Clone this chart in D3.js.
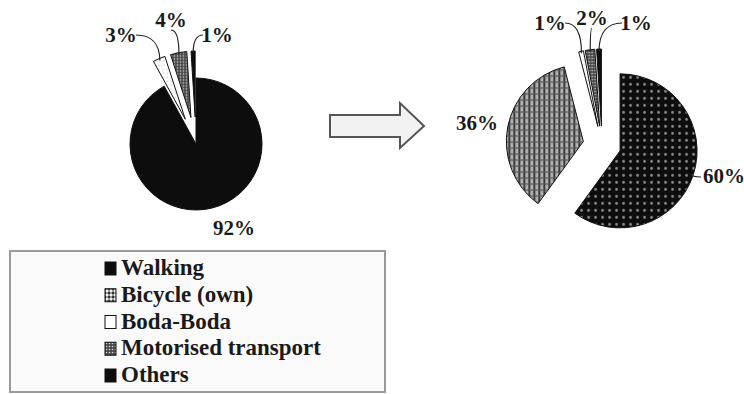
<!DOCTYPE html>
<html>
<head>
<meta charset="utf-8">
<script src="https://cdn.jsdelivr.net/npm/d3@7"></script>
<style>
  html, body { margin: 0; padding: 0; background: #fff; }
  svg { display: block; }
</style>
</head>
<body>
<svg id="chart" width="744" height="394" font-family="'Liberation Serif', 'DejaVu Serif', Times, serif" font-weight="bold"></svg>
<script>
// Travel mode shares (%) before and after
const categories = ["Walking", "Bicycle (own)", "Boda-Boda", "Motorised transport", "Others"];
const sharesBefore = [92, 0, 3, 4, 1];
const sharesAfter  = [60, 36, 1, 2, 1];

const svg = d3.select("#chart");
const defs = svg.append("defs");

// Fill patterns
function dotPattern(id, size, bg, dot, r) {
  const p = defs.append("pattern").attr("id", id).attr("patternUnits", "userSpaceOnUse")
    .attr("width", size).attr("height", size);
  p.append("rect").attr("width", size).attr("height", size).attr("fill", bg);
  p.append("circle").attr("cx", size / 2).attr("cy", size / 2).attr("r", r).attr("fill", dot);
}
dotPattern("darkDots", 7, "#0d0d0d", "#8a8a8a", 1.4);
dotPattern("greyDots", 3, "#4a4a4a", "#d8d8d8", 0.8);
dotPattern("lightDots", 4, "#ffffff", "#9a9a9a", 0.6);

const grid = defs.append("pattern").attr("id", "greyGrid").attr("patternUnits", "userSpaceOnUse")
  .attr("width", 5).attr("height", 6);
grid.append("rect").attr("width", 5).attr("height", 6).attr("fill", "#b0b0b0");
grid.append("rect").attr("x", 0).attr("y", 0).attr("width", 2).attr("height", 6).attr("fill", "#3a3a3a");
grid.append("rect").attr("x", 0).attr("y", 0).attr("width", 5).attr("height", 1.2).attr("fill", "#555");

const checker = defs.append("pattern").attr("id", "checker").attr("patternUnits", "userSpaceOnUse")
  .attr("width", 4).attr("height", 4);
checker.append("rect").attr("width", 4).attr("height", 4).attr("fill", "#999");
checker.append("rect").attr("width", 2).attr("height", 2).attr("fill", "#333");
checker.append("rect").attr("x", 2).attr("y", 2).attr("width", 2).attr("height", 2).attr("fill", "#eee");

const fillsBefore = ["#0d0d0d", "url(#checker)", "url(#lightDots)", "url(#greyDots)", "#0d0d0d"];
const fillsAfter  = ["url(#darkDots)", "url(#greyGrid)", "url(#lightDots)", "url(#greyDots)", "#0d0d0d"];
const legendFills = ["#0d0d0d", "url(#checker)", "#ffffff", "url(#greyDots)", "#0d0d0d"];

const pie = d3.pie().sort(null).value(d => d.v).startAngle(0).endAngle(2 * Math.PI);

// Pie placement and label layout (offsets from pie centre; anchor)
const layouts = [
  {
    values: sharesBefore, fills: fillsBefore, cx: 196, cy: 144, r: 66,
    explode: [0, 27, 27, 27, 27],
    labels: [[38, 91, "middle"], null, [-75, -102, "middle"], [-25, -117, "middle"], [21, -102, "middle"]],
    leaders: [false, false, true, true, true]
  },
  {
    values: sharesAfter, fills: fillsAfter, cx: 602, cy: 145, r: 77,
    explode: [19, 19, 19, 19, 19],
    labels: [[101, 38, "start"], [-125, -15, "middle"], [-52, -115, "middle"], [-10, -120, "middle"], [34, -115, "middle"]],
    leaders: [true, false, true, true, true]
  }
];

layouts.forEach(L => {
  const data = categories.map((c, i) => ({ c, v: L.values[i], i }));
  const arcs = pie(data);
  const arc = d3.arc().innerRadius(0).outerRadius(L.r);
  const g = svg.append("g").attr("transform", `translate(${L.cx},${L.cy})`);

  arcs.forEach(a => {
    if (a.data.v <= 0) return;
    const mid = (a.startAngle + a.endAngle) / 2;
    const off = L.explode[a.index];
    const ox = off * Math.sin(mid), oy = -off * Math.cos(mid);
    g.append("path")
      .attr("d", arc(a))
      .attr("transform", `translate(${ox},${oy})`)
      .attr("fill", L.fills[a.index])
      .attr("stroke", "#111")
      .attr("stroke-width", 1);

    const lab = L.labels[a.index];
    if (!lab) return;
    const [lx, ly, anchor] = lab;
    g.append("text")
      .attr("x", lx).attr("y", ly)
      .attr("text-anchor", anchor)
      .attr("font-size", 21)
      .attr("fill", "#1a1a1a")
      .text(a.data.v + "%");

    if (L.leaders[a.index]) {
      // point on the slice rim where the leader ends
      const rr = L.r - 2;
      const px = ox + rr * Math.sin(mid), py = oy - rr * Math.cos(mid);
      let sx, sy;
      if (anchor === "start") { sx = lx - 2; sy = ly - 6; }
      else if (lx < px - 8) { sx = lx + 15; sy = ly - 7; }
      else if (lx > px + 8) { sx = lx - 14; sy = ly - 7; }
      else { sx = lx; sy = ly + 3; }
      const path = d3.path();
      path.moveTo(sx, sy);
      path.bezierCurveTo(sx + (px - sx) * 0.6, sy, px, sy + (py - sy) * 0.3, px, py);
      g.append("path").attr("d", path.toString())
        .attr("fill", "none").attr("stroke", "#222").attr("stroke-width", 1.2);
    }
  });
});

// Arrow between the two pies
const arrowPts = [[330, 115], [400, 115], [400, 103], [424, 126], [400, 148], [400, 137], [330, 137]];
svg.append("path")
  .attr("d", d3.line()(arrowPts) + "Z")
  .attr("fill", "#f2f2f2").attr("stroke", "#555").attr("stroke-width", 2);

// Legend
const legend = svg.append("g");
legend.append("rect").attr("x", 10).attr("y", 251).attr("width", 375).attr("height", 141)
  .attr("fill", "#fafafa").attr("stroke", "#9a9a9a").attr("stroke-width", 2);
const rowY = d3.scalePoint().domain(categories).range([268, 375]);
categories.forEach((c, i) => {
  const y = rowY(c);
  legend.append("rect").attr("x", 105).attr("y", y - 6).attr("width", 11).attr("height", 13)
    .attr("fill", legendFills[i]).attr("stroke", "#111").attr("stroke-width", 1);
  legend.append("text").attr("x", 121).attr("y", y + 7).attr("font-size", 23)
    .attr("fill", "#1a1a1a").text(c);
});
</script>
</body>
</html>
